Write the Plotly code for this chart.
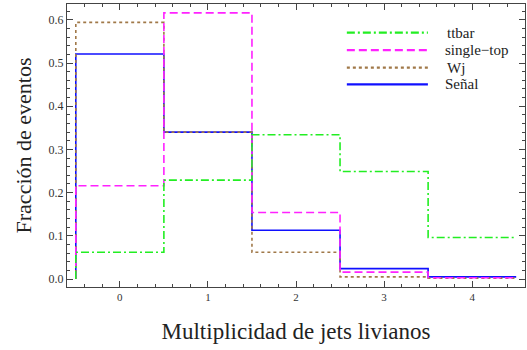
import plotly.graph_objects as go

# Data
categories = [0, 1, 2, 3, 4]
series_names = ["ttbar", "single\u2212top", "Wj", "Se\u00f1al"]
ttbar = [0.062, 0.229, 0.334, 0.249, 0.096]
single_top = [0.216, 0.616, 0.154, 0.016, 0.003]
wj = [0.594, 0.340, 0.062, 0.005, 0.002]
senal = [0.521, 0.340, 0.113, 0.024, 0.005]
x_ticks = [0, 1, 2, 3, 4]
y_ticks = [0.0, 0.1, 0.2, 0.3, 0.4, 0.5, 0.6]

colors = {"ttbar": "#22ee22", "single": "#ff22ff", "wj": "#a07848", "senal": "#1010ff"}
dashes = {"ttbar": "8px,3px,2px,3px", "single": "8px,4px", "wj": "3px,3px", "senal": "solid"}

def step_xy(vals):
    xs = [categories[0] - 0.5] + [c - 0.5 for c in categories] + [categories[-1] + 0.5]
    ys = [0] + list(vals) + [vals[-1]]
    return xs, ys

fig = go.Figure()
order = [("senal", senal), ("wj", wj), ("single", single_top), ("ttbar", ttbar)]
for key, vals in order:
    xs, ys = step_xy(vals)
    fig.add_trace(go.Scatter(x=xs, y=ys, mode="lines", line_shape="hv",
                             line=dict(color=colors[key], width=1.6, dash=dashes[key]),
                             showlegend=False, hoverinfo="skip"))

# Manual legend (long line samples)
leg_keys = ["ttbar", "single", "wj", "senal"]
leg_y = [0.899, 0.837, 0.775, 0.716]
leg_x = [0.826, 0.82, 0.826, 0.82]
for key, name, yy, xx in zip(leg_keys, series_names, leg_y, leg_x):
    fig.add_shape(type="line", xref="paper", yref="paper", x0=0.611, x1=0.788, y0=yy, y1=yy,
                  line=dict(color=colors[key], width=2.2, dash=dashes[key]))
    fig.add_annotation(xref="paper", yref="paper", x=xx, y=yy, text=name, showarrow=False,
                       xanchor="left", yanchor="middle",
                       font=dict(family="Liberation Serif", size=15, color="#222"))

axis_common = dict(showline=True, linecolor="#444", linewidth=1.3, mirror="allticks",
                   ticks="inside", ticklen=6, tickwidth=1, tickcolor="#444",
                   showgrid=False, zeroline=False)

fig.update_layout(
    width=527, height=350,
    margin=dict(l=67, r=2, t=4, b=63),
    plot_bgcolor="white", paper_bgcolor="white",
    xaxis=dict(range=[-0.6, 4.6], tickvals=x_ticks, **axis_common,
               tickfont=dict(family="Liberation Serif", size=11, color="#333"),
               minor=dict(dtick=0.2, tick0=0, ticks="inside", ticklen=3, tickcolor="#444"),
               title=dict(text="Multiplicidad de jets livianos", standoff=20,
                          font=dict(family="Liberation Serif", size=23, color="#222"))),
    yaxis=dict(range=[-0.0185, 0.6366], tickvals=y_ticks, tickformat=".1f", **axis_common,
               tickfont=dict(family="Liberation Serif", size=12, color="#333"),
               minor=dict(dtick=0.02, tick0=0, ticks="inside", ticklen=3, tickcolor="#444"),
               title=dict(text="Fracci\u00f3n de eventos", standoff=10,
                          font=dict(family="Liberation Serif", size=22, color="#222"))),
)

fig.write_html("out.html")
